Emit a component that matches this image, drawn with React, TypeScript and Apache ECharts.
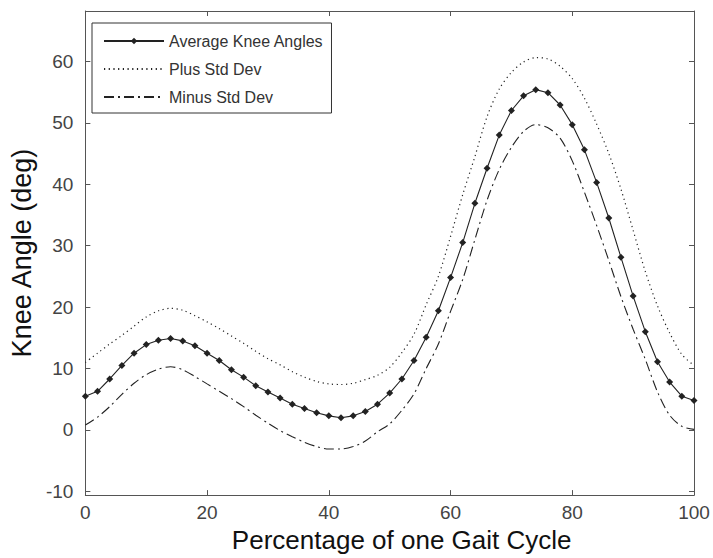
import React, { useEffect, useRef } from "react";
import * as echarts from "echarts";

const gaitPct: number[] = [
  0, 2, 4, 6, 8, 10, 12, 14, 16, 18, 20, 22, 24, 26, 28, 30, 32, 34, 36, 38, 40, 42, 44, 46, 48, 50,
  52, 54, 56, 58, 60, 62, 64, 66, 68, 70, 72, 74, 76, 78, 80, 82, 84, 86, 88, 90, 92, 94, 96, 98, 100,
];

const avgKnee: number[] = [
  5.5, 6.3, 8.3, 10.5, 12.5, 13.9, 14.6, 14.9, 14.5, 13.7, 12.5, 11.3, 9.8, 8.6, 7.2, 6.2, 5.2, 4.2,
  3.5, 2.8, 2.3, 2.0, 2.3, 3.0, 4.2, 6.0, 8.3, 11.3, 15.1, 19.4, 24.8, 30.5, 36.9, 42.6, 48.0, 52.0,
  54.4, 55.4, 54.9, 52.9, 49.7, 45.6, 40.3, 34.5, 28.1, 21.8, 16.0, 11.1, 7.8, 5.5, 4.8,
];

const plusStd: number[] = [
  11.0, 12.5, 14.0, 15.4, 16.9, 18.4, 19.4, 19.8, 19.5, 18.6, 17.6, 16.5, 15.3, 14.1, 12.8, 11.6,
  10.6, 9.5, 8.6, 7.9, 7.5, 7.4, 7.6, 8.2, 8.9, 10.2, 12.6, 15.6, 20.4, 25.0, 31.5, 38.3, 44.5, 51.0,
  55.5, 58.2, 59.9, 60.6, 60.4, 59.2, 57.2, 54.0, 49.8, 45.0, 39.2, 32.5, 25.8, 20.2, 15.8, 12.3, 10.5,
];

const minusStd: number[] = [
  0.8, 2.1, 3.8, 5.8, 7.6, 9.0, 9.9, 10.3, 9.8, 8.7, 7.5, 6.3, 5.1, 3.8, 2.4, 1.1, -0.1, -1.1, -2.0,
  -2.7, -3.1, -3.1, -2.7, -1.8, -0.3, 1.0, 3.2, 5.9, 10.0, 14.0, 19.3, 24.5, 31.0, 37.4, 42.4, 46.0,
  48.6, 49.7, 49.2, 47.5, 43.8, 38.7, 33.3, 27.6, 21.7, 16.4, 11.5, 6.2, 2.4, 0.6, 0.1,
];

const yTicks: number[] = [-10, 0, 10, 20, 30, 40, 50, 60];
const seriesNames: string[] = ["Average Knee Angles", "Plus Std Dev", "Minus Std Dev"];

const pairs = (ys: number[]) => gaitPct.map((x, i) => [x, ys[i]]);

export default function App() {
  const ref = useRef<HTMLDivElement>(null);
  useEffect(() => {
    if (!ref.current) return;
    const chart = echarts.init(ref.current, null, { renderer: "svg" });
    const font = "'Liberation Sans', Arial, sans-serif";
    const axisCol = "#555";
    const lineCol = "#222";
    chart.setOption({
      animation: false,
      backgroundColor: "#fff",
      textStyle: { fontFamily: font },
      grid: { left: 82, right: 19, top: 11, bottom: 60, show: false },
      legend: {
        orient: "vertical",
        left: 92,
        top: 23,
        data: [
          { name: seriesNames[0] },
          { name: seriesNames[1], itemStyle: { opacity: 0 } },
          { name: seriesNames[2], itemStyle: { opacity: 0 } },
        ],
        backgroundColor: "#fff",
        borderColor: "#333",
        borderWidth: 1,
        borderRadius: 0,
        padding: [10, 8, 8, 11],
        itemWidth: 60,
        itemHeight: 8,
        itemGap: 12,
        textStyle: { fontFamily: font, fontSize: 16, color: "#333" },
      },
      xAxis: [
        {
          type: "value",
          min: 0,
          max: 100,
          interval: 20,
          position: "bottom",
          name: "Percentage of one Gait Cycle",
          nameLocation: "middle",
          nameGap: 30,
          nameTextStyle: { fontFamily: font, fontSize: 26, color: "#111", padding: [0, 0, 0, 24] },
          axisLine: { show: true, onZero: false, lineStyle: { color: axisCol, width: 1 } },
          axisTick: { show: true, inside: true, length: 5, lineStyle: { color: axisCol } },
          axisLabel: { fontFamily: font, fontSize: 19, color: "#444", margin: 8 },
          splitLine: { show: false },
        },
        {
          type: "value",
          min: 0,
          max: 100,
          interval: 20,
          position: "top",
          axisLine: { show: true, onZero: false, lineStyle: { color: axisCol, width: 1 } },
          axisTick: { show: true, inside: true, length: 5, lineStyle: { color: axisCol } },
          axisLabel: { show: false },
          splitLine: { show: false },
        },
      ],
      yAxis: [
        {
          type: "value",
          min: -10.6,
          max: 68.2,
          position: "left",
          name: "Knee Angle (deg)",
          nameLocation: "middle",
          nameGap: 44,
          nameTextStyle: { fontFamily: font, fontSize: 27, color: "#111" },
          axisLine: { show: true, onZero: false, lineStyle: { color: axisCol, width: 1 } },
          axisTick: { show: true, inside: true, length: 5, customValues: yTicks, lineStyle: { color: axisCol } },
          axisLabel: { fontFamily: font, fontSize: 19, color: "#444", margin: 12, customValues: yTicks },
          splitLine: { show: false },
        },
        {
          type: "value",
          min: -10.6,
          max: 68.2,
          position: "right",
          axisLine: { show: true, onZero: false, lineStyle: { color: axisCol, width: 1 } },
          axisTick: { show: true, inside: true, length: 5, customValues: yTicks, lineStyle: { color: axisCol } },
          axisLabel: { show: false, customValues: yTicks },
          splitLine: { show: false },
        },
      ],
      series: [
        {
          name: seriesNames[0],
          type: "line",
          data: pairs(avgKnee),
          symbol: "diamond",
          symbolSize: 7,
          showSymbol: true,
          itemStyle: { color: lineCol },
          lineStyle: { color: lineCol, width: 1.1, type: "solid" },
          z: 3,
        },
        {
          name: seriesNames[1],
          type: "line",
          data: pairs(plusStd),
          symbol: "none",
          smooth: 0.3,
          itemStyle: { color: lineCol },
          lineStyle: { color: lineCol, width: 1.2, type: [1.2, 3.5] },
        },
        {
          name: seriesNames[2],
          type: "line",
          data: pairs(minusStd),
          symbol: "none",
          smooth: 0.3,
          itemStyle: { color: lineCol },
          lineStyle: { color: lineCol, width: 1.1, type: [10, 4, 2, 4] },
        },
      ],
    });
    return () => chart.dispose();
  }, []);
  return <div ref={ref} style={{ width: 713, height: 558, position: "absolute", left: 0, top: 0 }} />;
}
